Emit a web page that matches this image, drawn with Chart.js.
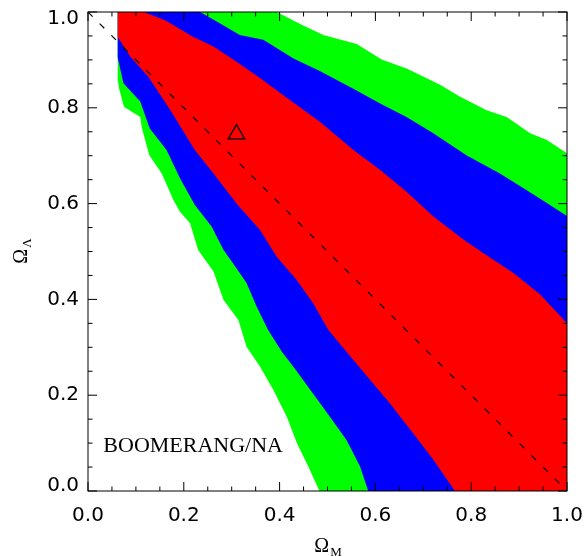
<!DOCTYPE html>
<html>
<head>
<meta charset="utf-8">
<script src="https://cdn.jsdelivr.net/npm/chart.js@4.4.1/dist/chart.umd.min.js"></script>
<style>
  body { margin: 0; background: #fff; }
  #wrap { width: 587px; height: 556px; }
</style>
</head>
<body>
<div id="wrap"><canvas id="c" width="587" height="556"></canvas></div>
<script>
// Confidence contours in the (Omega_M, Omega_Lambda) plane.
// Upper edges run left -> right, lower edges run top-left -> bottom.
const redUpper = [[0.062,1.0],[0.116,1.0],[0.161,0.983],[0.220,0.948],[0.262,0.928],[0.310,0.896],[0.359,0.862],
  [0.422,0.816],[0.484,0.771],[0.554,0.712],[0.610,0.670],[0.665,0.625],[0.721,0.573],[0.785,0.524],
  [0.835,0.490],[0.888,0.455],[0.944,0.410],[1.0,0.350]];
const redLower = [[0.062,0.948],[0.088,0.907],[0.126,0.865],[0.175,0.790],[0.223,0.712],[0.262,0.663],[0.310,0.600],
  [0.359,0.545],[0.394,0.489],[0.436,0.440],[0.470,0.392],[0.502,0.336],[0.540,0.290],[0.582,0.240],
  [0.630,0.183],[0.679,0.120],[0.721,0.065],[0.766,0.0]];

const blueUpper = [[0.062,1.0],[0.234,1.0],[0.276,0.976],[0.317,0.952],[0.366,0.942],[0.429,0.903],[0.484,0.877],
  [0.554,0.840],[0.610,0.809],[0.665,0.781],[0.721,0.747],[0.790,0.701],[0.860,0.663],[0.916,0.628],
  [0.958,0.601],[1.0,0.574]];
const blueLower = [[0.062,0.905],[0.074,0.851],[0.109,0.813],[0.129,0.757],[0.164,0.712],[0.192,0.653],[0.223,0.597],
  [0.258,0.552],[0.283,0.503],[0.303,0.475],[0.331,0.434],[0.352,0.385],[0.376,0.336],[0.405,0.290],
  [0.432,0.255],[0.465,0.210],[0.505,0.155],[0.540,0.106],[0.568,0.051],[0.585,0.0]];

const greenUpper = [[0.062,1.0],[0.394,1.0],[0.443,0.975],[0.491,0.952],[0.561,0.933],[0.613,0.901],[0.665,0.882],
  [0.735,0.848],[0.777,0.823],[0.832,0.795],[0.874,0.781],[0.923,0.747],[0.958,0.733],[1.0,0.705]];
const greenLower = [[0.062,0.858],[0.065,0.840],[0.075,0.802],[0.109,0.781],[0.112,0.760],[0.128,0.701],[0.154,0.663],
  [0.178,0.608],[0.192,0.583],[0.213,0.559],[0.230,0.503],[0.262,0.458],[0.283,0.399],[0.314,0.357],
  [0.331,0.301],[0.359,0.260],[0.387,0.211],[0.415,0.155],[0.436,0.100],[0.460,0.051],[0.483,0.0]];

const flatLine = [[0,1],[1,0]];      // Omega_M + Omega_Lambda = 1
const modelPoint = [[0.31,0.745]];   // triangle
const xTicks = [0, 0.2, 0.4, 0.6, 0.8, 1.0];
const yTicks = [0, 0.2, 0.4, 0.6, 0.8, 1.0];
const label = 'BOOMERANG/NA';

function polygon(upper, lower) {
  const pts = upper.concat([[1.0, 0.0]], lower.slice().reverse());
  return pts.map(p => ({x: p[0], y: p[1]}));
}

function area(pts, color) {
  return { data: pts, showLine: true, fill: 'shape', backgroundColor: color, borderColor: color,
           borderWidth: 0, pointRadius: 0, tension: 0 };
}

function drawTitle(ctx, main, sub) {
  ctx.font = '20px "Liberation Serif"';
  const w1 = ctx.measureText(main).width;
  ctx.font = '13px "Liberation Serif"';
  const w2 = ctx.measureText(sub).width;
  const x0 = -(w1 + w2) / 2;
  ctx.font = '20px "Liberation Serif"';
  ctx.fillText(main, x0, 0);
  ctx.font = '13px "Liberation Serif"';
  ctx.fillText(sub, x0 + w1 + 1, 4);
}

const frame = {
  id: 'frame',
  afterDatasetsDraw(chart) {
    const {ctx, chartArea: a, scales: {x, y}} = chart;
    ctx.save();
    ctx.strokeStyle = '#000';
    ctx.lineWidth = 1;
    ctx.strokeRect(a.left, a.top, a.right - a.left, a.bottom - a.top);
    ctx.beginPath();
    for (let i = 0; i <= 20; i++) {
      const v = i * 0.05;
      const len = i % 4 === 0 ? 9 : 4.5;
      const px = x.getPixelForValue(v), py = y.getPixelForValue(v);
      ctx.moveTo(px, a.bottom); ctx.lineTo(px, a.bottom - len);
      ctx.moveTo(px, a.top); ctx.lineTo(px, a.top + len);
      ctx.moveTo(a.left, py); ctx.lineTo(a.left + len, py);
      ctx.moveTo(a.right, py); ctx.lineTo(a.right - len, py);
    }
    ctx.stroke();

    ctx.fillStyle = '#000';
    ctx.textBaseline = 'alphabetic';
    ctx.font = '22px "Liberation Serif"';
    ctx.fillText(label, x.getPixelForValue(0.032), y.getPixelForValue(0.081));

    ctx.save();
    ctx.translate((a.left + a.right) / 2, 552);
    drawTitle(ctx, 'Ω', 'M');
    ctx.restore();

    ctx.save();
    ctx.translate(26.5, (a.top + a.bottom) / 2);
    ctx.rotate(-Math.PI / 2);
    drawTitle(ctx, 'Ω', 'Λ');
    ctx.restore();
    ctx.restore();
  }
};

new Chart(document.getElementById('c'), {
  type: 'scatter',
  data: {
    datasets: [
      { data: modelPoint.map(p => ({x: p[0], y: p[1]})), pointStyle: 'triangle', pointRadius: 9.5,
        borderColor: '#000', borderWidth: 1.3, backgroundColor: 'rgba(0,0,0,0)' },
      { data: flatLine.map(p => ({x: p[0], y: p[1]})), showLine: true, borderColor: '#000', borderWidth: 1.2,
        borderDash: [6.5, 10], pointRadius: 0, fill: false },
      area(polygon(redUpper, redLower), '#ff0000'),
      area(polygon(blueUpper, blueLower), '#0000ff'),
      area(polygon(greenUpper, greenLower), '#00ff00')
    ]
  },
  options: {
    responsive: false,
    animation: false,
    layout: { padding: { top: 12, right: 20, left: 0, bottom: 0 } },
    plugins: { legend: { display: false }, tooltip: { enabled: false } },
    scales: {
      x: {
        type: 'linear', min: 0, max: 1,
        afterFit: s => { s.height = 65; s.paddingLeft = 0; s.paddingRight = 0; },
        afterBuildTicks: s => { s.ticks = xTicks.map(v => ({value: v})); },
        grid: { display: false, drawTicks: false },
        border: { display: false },
        ticks: { padding: 13, color: '#000', font: { family: '"DejaVu Sans"', size: 20 },
                 callback: v => Number(v).toFixed(1) }
      },
      y: {
        type: 'linear', min: 0, max: 1,
        afterFit: s => { s.width = 88; s.paddingTop = 0; s.paddingBottom = 0; },
        // end labels sit slightly inside the frame, as in the original
        afterBuildTicks: s => { s.ticks = yTicks.map(v => ({value: v === 0 ? 0.0104 : (v === 1 ? 0.985 : v)})); },
        grid: { display: false, drawTicks: false },
        border: { display: false },
        ticks: { padding: 9, color: '#000', font: { family: '"DejaVu Sans"', size: 20 },
                 callback: v => (Math.round(v * 5) / 5).toFixed(1) }
      }
    }
  },
  plugins: [frame]
});
</script>
</body>
</html>
